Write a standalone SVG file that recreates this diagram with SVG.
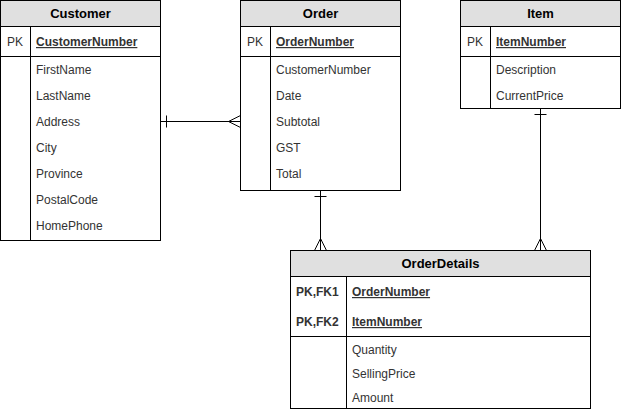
<svg xmlns="http://www.w3.org/2000/svg" width="621" height="412" viewBox="0 0 621 412">
<style>
text{font-family:"Liberation Sans",Arial,sans-serif;font-size:12px;fill:#333}
.h{font-weight:bold;font-size:13px;fill:#000;text-anchor:middle}
.k{text-decoration:underline;font-weight:bold}
.b{font-weight:bold}
.box{fill:#fff;stroke:#000;stroke-width:1}
.hd{fill:#e0e0e0;stroke:#000;stroke-width:1}
.ln{fill:none;stroke:#000;stroke-width:1}
</style>
<rect width="621" height="412" fill="#fff"/>
<g id="connectors" class="ln">
<path d="M160.5 121.5H240.5"/>
<path d="M166.5 115.5V127.5"/>
<path d="M240.5 115.5L228.5 121.5L240.5 127.5"/>
<path d="M320.5 190.5V250.5"/>
<path d="M314.5 196.5H326.5"/>
<path d="M314.5 250.5L320.5 238.5L326.5 250.5"/>
<path d="M540.5 108.5V250.5"/>
<path d="M534.5 114.5H546.5"/>
<path d="M534.5 250.5L540.5 238.5L546.5 250.5"/>
</g>
<g id="customer">
<rect class="box" x="0.5" y="0.5" width="160" height="240"/>
<rect class="hd" x="0.5" y="0.5" width="160" height="26"/>
<path class="ln" d="M0.5 56.5H160.5M30.5 26.5V240.5"/>
<text class="h" x="80.5" y="18">Customer</text>
<text x="7" y="46">PK</text>
<text class="k" x="36" y="46">CustomerNumber</text>
<text x="36" y="74">FirstName</text>
<text x="36" y="100">LastName</text>
<text x="36" y="126">Address</text>
<text x="36" y="152">City</text>
<text x="36" y="178">Province</text>
<text x="36" y="204">PostalCode</text>
<text x="36" y="230">HomePhone</text>
</g>
<g id="order">
<rect class="box" x="240.5" y="0.5" width="160" height="190"/>
<rect class="hd" x="240.5" y="0.5" width="160" height="26"/>
<path class="ln" d="M240.5 56.5H400.5M270.5 26.5V190.5"/>
<text class="h" x="320.5" y="18">Order</text>
<text x="247" y="46">PK</text>
<text class="k" x="276" y="46">OrderNumber</text>
<text x="276" y="74">CustomerNumber</text>
<text x="276" y="100">Date</text>
<text x="276" y="126">Subtotal</text>
<text x="276" y="152">GST</text>
<text x="276" y="178">Total</text>
</g>
<g id="item">
<rect class="box" x="460.5" y="0.5" width="160" height="108"/>
<rect class="hd" x="460.5" y="0.5" width="160" height="26"/>
<path class="ln" d="M460.5 56.5H620.5M490.5 26.5V108.5"/>
<text class="h" x="540.5" y="18">Item</text>
<text x="467" y="46">PK</text>
<text class="k" x="496" y="46">ItemNumber</text>
<text x="496" y="74">Description</text>
<text x="496" y="100">CurrentPrice</text>
</g>
<g id="orderdetails">
<rect class="box" x="290.5" y="250.5" width="300" height="158"/>
<rect class="hd" x="290.5" y="250.5" width="300" height="26"/>
<path class="ln" d="M290.5 336.5H590.5M346.5 276.5V408.5"/>
<text class="h" x="440.5" y="268">OrderDetails</text>
<text class="b" x="296" y="296">PK,FK1</text>
<text class="k" x="352" y="296">OrderNumber</text>
<text class="b" x="296" y="326">PK,FK2</text>
<text class="k" x="352" y="326">ItemNumber</text>
<text x="352" y="354">Quantity</text>
<text x="352" y="378">SellingPrice</text>
<text x="352" y="402">Amount</text>
</g>
</svg>
